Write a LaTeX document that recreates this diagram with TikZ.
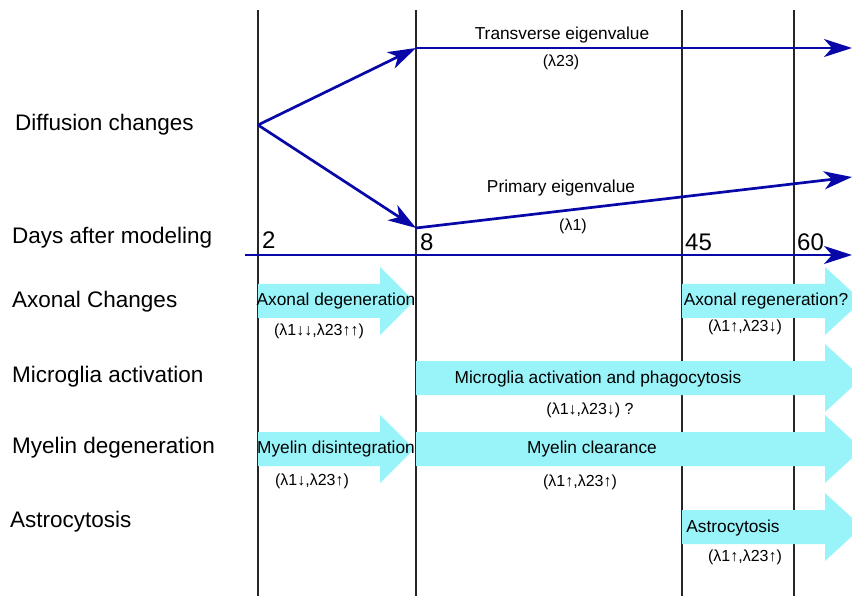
\documentclass[tikz,border=0pt]{standalone}
\usepackage{fontspec}
\setmainfont{Liberation Sans}
\usetikzlibrary{arrows.meta}
\definecolor{navy}{RGB}{8,8,168}
\definecolor{lcyan}{RGB}{153,244,250}
\tikzset{
  grid/.style={black!85,line width=1.4pt},
  bluearrow/.style={navy,line width=2.7pt,-{Stealth[length=28pt,width=18pt,inset=8pt]}},
  rowlabel/.style={anchor=west,font=\fontsize{22.5}{26}\selectfont,inner sep=0pt},
  daynum/.style={anchor=south west,font=\fontsize{24}{28}\selectfont,inner sep=0pt},
  lbl/.style={font=\fontsize{17.3}{20}\selectfont,inner sep=0pt},
  sub/.style={font=\fontsize{16}{19}\selectfont,inner sep=0pt},
  cyanfill/.style={fill=lcyan}
}
\newcommand\cyanarrow[4]{% x1, head start, tip, y
  \fill[cyanfill] (#1,#4-17) -- (#2,#4-17) -- (#2,#4-34) -- (#3,#4) -- (#2,#4+34) -- (#2,#4+17) -- (#1,#4+17) -- cycle;}
\begin{document}
\begin{tikzpicture}[x=1pt,y=-1pt]
\useasboundingbox (0,0) rectangle (852,596);
\clip (0,0) rectangle (852,596);
% vertical day lines
\foreach \xx/\nm in {258/a,416/b,682/c,794/d}{
  \coordinate (t\nm) at (\xx,10);
  \coordinate (b\nm) at (\xx,596);
  \draw[grid] (t\nm) -- (b\nm);
}
% cyan process arrows
\cyanarrow{258}{380}{414}{301}
\cyanarrow{682}{825}{862}{301}
\cyanarrow{416}{825}{862}{378}
\cyanarrow{258}{380}{414}{449}
\cyanarrow{416}{825}{862}{449}
\cyanarrow{682}{825}{862}{527}
% row labels
\node[rowlabel] (l1) at (15,125) {Diffusion changes};
\node[rowlabel] (l2) at (12,238) {Days after modeling};
\node[rowlabel] (l3) at (12,302) {Axonal Changes};
\node[rowlabel] (l4) at (12,377) {Microglia activation};
\node[rowlabel] (l5) at (12,448) {Myelin degeneration};
\node[rowlabel] (l6) at (10,522) {Astrocytosis};
% day numbers
\node[daynum] (d2) at (262,249) {2};
\node[daynum] (d8) at (420,251) {8};
\node[daynum] (d45) at (685,251) {45};
\node[daynum] (d60) at (797,251) {60};
% time axis
\coordinate (ax0) at (245,255);
\coordinate (ax1) at (852,255);
\draw[bluearrow] (ax0) -- (ax1);
% diffusion arrows
\coordinate (src) at (258,125);
\coordinate (tv) at (416,48);
\coordinate (pv) at (416,228);
\coordinate (tvend) at (852,48);
\coordinate (pvend) at (852,177);
\draw[bluearrow] (src) -- (tv);
\draw[bluearrow] (src) -- (pv);
\draw[bluearrow] (tv) -- (tvend);
\draw[bluearrow] (pv) -- (pvend);
\node[lbl] (tvl) at (562,35) {Transverse eigenvalue};
\node[sub] (tvs) at (561,62) {(λ23)};
\node[lbl] (pvl) at (561,188) {Primary eigenvalue};
\node[sub] (pvs) at (573,226) {(λ1)};
% process labels
\node[lbl] (ad) at (336,301) {Axonal degeneration};
\node[sub] (ads) at (319,331) {(λ1↓↓,λ23↑↑)};
\node[lbl] (ar) at (766,301) {Axonal regeneration?};
\node[sub] (ars) at (745,327) {(λ1↑,λ23↓)};
\node[lbl] (mg) at (598,379) {Microglia activation and phagocytosis};
\node[sub] (mgs) at (590,410) {(λ1↓,λ23↓) ?};
\node[lbl] (md) at (336,449) {Myelin disintegration};
\node[sub] (mds) at (312,481) {(λ1↓,λ23↑)};
\node[lbl] (mc) at (592,449) {Myelin clearance};
\node[sub] (mcs) at (580,482) {(λ1↑,λ23↑)};
\node[lbl] (as) at (733,528) {Astrocytosis};
\node[sub] (ass) at (745,557) {(λ1↑,λ23↑)};
\end{tikzpicture}
\end{document}
